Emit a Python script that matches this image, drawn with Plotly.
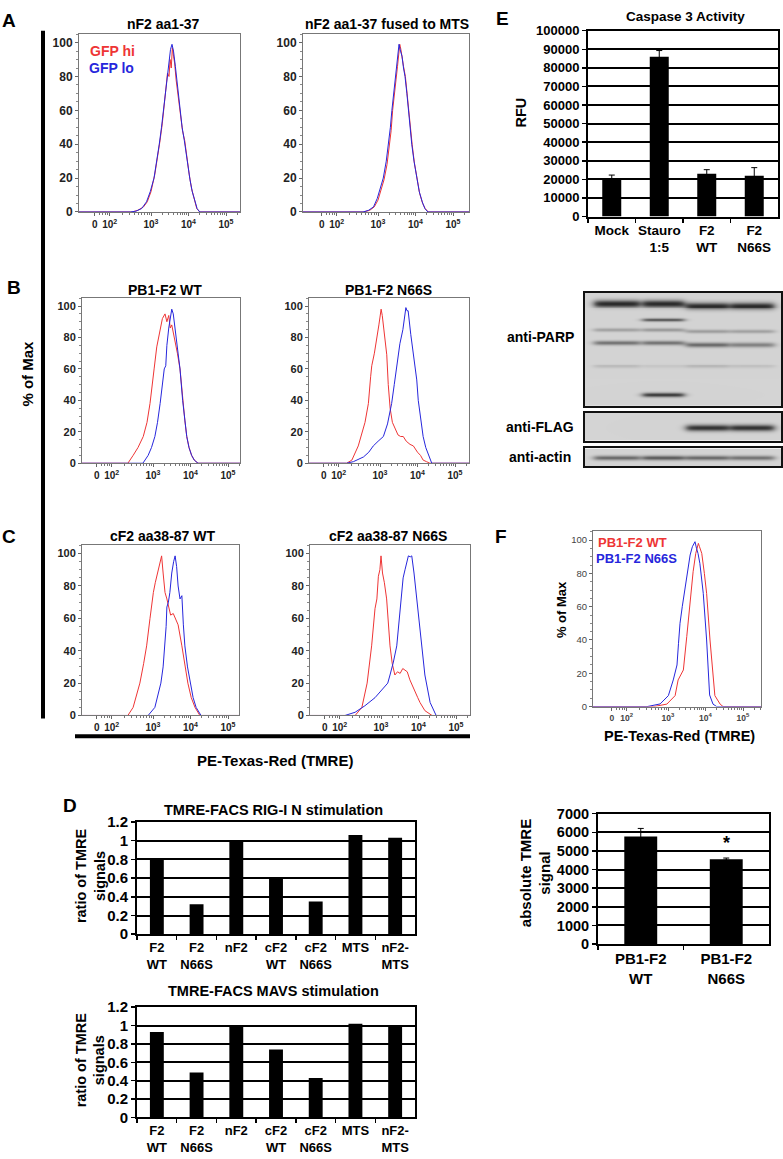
import numpy as np
import plotly.graph_objects as go

W, H = 783, 1159
FONT = "Arial, Liberation Sans, sans-serif"
RED = "#ee3535"
BLUE = "#2626dc"

# ---------------- DATA ----------------
# Flow histograms: x in display decades (10^3 -> 3), y in % of max
A1_RED_X = [1.0, 2.5, 2.65, 2.8, 2.9, 3.0, 3.1, 3.18, 3.24, 3.3, 3.35, 3.4, 3.44, 3.48, 3.51, 3.54, 3.57, 3.6, 3.63, 3.67, 3.72, 3.78, 3.84, 3.9, 3.95, 4.02, 4.08, 4.15, 4.22, 4.3, 5.5]
A1_RED_Y = [0, 0, 1, 3, 6, 12, 22, 32, 42, 52, 62, 72, 82, 80, 90, 85, 97, 92, 88, 78, 68, 58, 48, 42, 33, 22, 14, 7, 2, 0, 0]
A1_BLUE_X = [1.0, 2.45, 2.6, 2.75, 2.88, 2.98, 3.08, 3.16, 3.22, 3.28, 3.33, 3.38, 3.42, 3.47, 3.52, 3.56, 3.6, 3.65, 3.7, 3.77, 3.83, 3.89, 3.93, 3.98, 4.04, 4.1, 4.17, 4.23, 4.3, 5.5]
A1_BLUE_Y = [0, 0, 0.5, 2, 6, 12, 20, 30, 40, 50, 60, 70, 80, 90, 96, 99, 95, 86, 76, 60, 50, 42, 35, 27, 19, 12, 6, 2, 0, 0]

A2_RED_X = [1.0, 2.62, 2.78, 2.9, 3.0, 3.09, 3.16, 3.24, 3.3, 3.35, 3.39, 3.44, 3.48, 3.52, 3.55, 3.58, 3.61, 3.64, 3.68, 3.73, 3.78, 3.82, 3.87, 3.91, 3.97, 4.04, 4.11, 4.19, 4.26, 4.34, 5.5]
A2_RED_Y = [0, 0, 1, 3, 7, 13, 19, 28, 38, 48, 60, 72, 78, 86, 94, 99, 96, 90, 86, 80, 68, 58, 49, 40, 29, 19, 11, 5, 2, 0, 0]
A2_BLUE_X = [1.0, 2.6, 2.75, 2.88, 2.98, 3.07, 3.14, 3.22, 3.28, 3.33, 3.37, 3.42, 3.46, 3.5, 3.54, 3.56, 3.6, 3.64, 3.68, 3.72, 3.77, 3.81, 3.86, 3.9, 3.96, 4.03, 4.1, 4.18, 4.25, 4.33, 5.5]
A2_BLUE_Y = [0, 0, 1, 3, 8, 14, 20, 30, 40, 50, 60, 70, 80, 90, 97, 99, 95, 92, 85, 80, 70, 60, 50, 40, 30, 20, 12, 6, 2, 0, 0]

B1_RED_X = [1.0, 2.33, 2.47, 2.6, 2.74, 2.84, 2.92, 2.97, 3.03, 3.1, 3.19, 3.25, 3.32, 3.37, 3.42, 3.46, 3.5, 3.55, 3.59, 3.65, 3.72, 3.79, 3.85, 3.9, 3.96, 4.03, 4.1, 4.2, 5.5]
B1_RED_Y = [0, 0, 5, 10, 17, 26, 38, 50, 60, 74, 86, 92, 95, 90, 94, 86, 88, 82, 78, 70, 60, 40, 27, 17, 10, 5, 2, 0, 0]
B1_BLUE_X = [1.0, 2.73, 2.87, 2.96, 3.05, 3.12, 3.19, 3.25, 3.3, 3.34, 3.37, 3.42, 3.46, 3.5, 3.54, 3.59, 3.65, 3.72, 3.79, 3.85, 3.9, 3.96, 4.03, 4.1, 4.2, 5.5]
B1_BLUE_Y = [0, 0, 5, 10, 17, 26, 38, 52, 60, 62, 75, 86, 92, 98, 95, 85, 72, 60, 40, 27, 17, 10, 5, 2, 0, 0]

B2_RED_X = [1.0, 2.11, 2.25, 2.42, 2.6, 2.69, 2.75, 2.78, 2.85, 2.91, 2.97, 3.0, 3.03, 3.06, 3.09, 3.14, 3.18, 3.22, 3.27, 3.33, 3.4, 3.48, 3.55, 3.62, 3.7, 3.8, 3.89, 4.0, 4.08, 4.15, 4.24, 4.33, 5.5]
B2_RED_Y = [0, 0, 2, 11, 26, 38, 55, 62, 70, 78, 88, 93, 98, 94, 87, 76, 69, 50, 35, 26, 22, 18, 17, 17, 14, 12, 11, 7, 5, 2, 1, 0, 0]
B2_BLUE_X = [1.0, 2.11, 2.29, 2.56, 2.7, 2.82, 2.95, 3.09, 3.2, 3.31, 3.38, 3.45, 3.53, 3.61, 3.66, 3.69, 3.72, 3.75, 3.82, 3.89, 3.98, 4.02, 4.08, 4.15, 4.22, 4.29, 4.38, 5.5]
B2_BLUE_Y = [0, 0, 1, 4, 7, 11, 14, 17, 25, 38, 50, 61, 76, 85, 95, 99, 97, 97, 82, 69, 53, 40, 28, 17, 10, 5, 0, 0]

C1_RED_X = [1.0, 2.33, 2.47, 2.56, 2.65, 2.75, 2.83, 2.92, 2.97, 3.01, 3.06, 3.1, 3.15, 3.2, 3.23, 3.27, 3.32, 3.37, 3.41, 3.47, 3.54, 3.6, 3.67, 3.77, 3.85, 3.93, 4.02, 4.12, 4.25, 5.5]
C1_RED_Y = [0, 0, 5, 12, 20, 32, 43, 60, 70, 76, 82, 86, 90, 94, 98.6, 88, 76, 72, 68, 62, 63, 60, 56, 43, 30, 20, 11, 5, 0, 0]
C1_BLUE_X = [1.0, 2.87, 3.05, 3.13, 3.21, 3.27, 3.32, 3.35, 3.37, 3.41, 3.45, 3.5, 3.55, 3.59, 3.63, 3.67, 3.72, 3.77, 3.81, 3.85, 3.92, 3.99, 4.07, 4.15, 4.28, 5.5]
C1_BLUE_Y = [0, 0, 5, 12, 20, 30, 43, 55, 67, 70, 76, 88, 95, 98.6, 92, 80, 72, 74, 56, 43, 30, 20, 11, 5, 0, 0]

C2_RED_X = [1.0, 2.31, 2.49, 2.63, 2.75, 2.84, 2.89, 2.93, 2.97, 3.0, 3.04, 3.09, 3.15, 3.19, 3.24, 3.3, 3.37, 3.44, 3.51, 3.58, 3.64, 3.7, 3.77, 3.84, 3.91, 3.98, 4.04, 4.17, 4.36, 5.5]
C2_RED_Y = [0, 0, 5, 20, 43, 66, 72, 86, 90, 98.6, 88, 82, 72, 56, 43, 32, 25, 27, 26, 29, 28, 27, 22, 18, 15, 11, 8, 3, 0, 0]
C2_BLUE_X = [1.0, 2.04, 2.31, 2.57, 2.84, 3.0, 3.11, 3.18, 3.24, 3.33, 3.42, 3.47, 3.51, 3.55, 3.59, 3.64, 3.69, 3.73, 3.78, 3.82, 3.88, 3.95, 4.04, 4.08, 4.17, 4.31, 4.47, 5.5]
C2_BLUE_Y = [0, 0, 2, 6, 11, 15, 18, 20, 25, 33, 43, 55, 64, 75, 85, 90, 96, 98.6, 98, 98.6, 88, 72, 52, 43, 25, 8, 0, 0]

F_RED_X = [1.0, 2.61, 2.97, 3.19, 3.27, 3.34, 3.41, 3.5, 3.59, 3.67, 3.74, 3.79, 3.81, 3.84, 3.9, 3.97, 4.03, 4.12, 4.18, 4.21, 4.25, 4.39, 4.47, 5.5]
F_RED_Y = [0, 0, 1.5, 6.6, 16, 19, 22, 42, 62, 81, 92, 97, 98, 96, 92, 80, 68, 40, 22, 16, 6.6, 1.5, 0, 0]
F_BLUE_X = [1.0, 2.44, 2.79, 3.01, 3.14, 3.24, 3.28, 3.32, 3.38, 3.45, 3.52, 3.59, 3.65, 3.7, 3.72, 3.76, 3.8, 3.85, 3.94, 4.03, 4.07, 4.11, 4.2, 4.3, 5.5]
F_BLUE_Y = [0, 0, 1.6, 6.6, 16, 25, 38, 50, 60, 70, 82, 91, 96, 98, 99, 95, 92, 86, 68, 40, 22, 7, 1.5, 0, 0]

HIST_TICK_POS = [1.5, 1.9, 3, 4, 5]
HIST_TICK_TEXT = ["0", "10<sup>2</sup>", "10<sup>3</sup>", "10<sup>4</sup>", "10<sup>5</sup>"]
HIST_Y_TICKS = [0, 20, 40, 60, 80, 100]

# Caspase 3 activity
E_CATS = ["Mock", "Stauro<br>1:5", "F2<br>WT", "F2<br>N66S"]
E_VALS = [20500, 86000, 23000, 22000]
E_ERR = [1800, 3300, 2200, 4300]

# absolute TMRE
T_CATS = ["PB1-F2<br>WT", "PB1-F2<br>N66S"]
T_VALS = [5780, 4560]
T_ERR = [430, 60]

# D panels
D_CATS = ["F2<br>WT", "F2<br>N66S", "nF2", "cF2<br>WT", "cF2<br>N66S", "MTS", "nF2-<br>MTS"]
D_RIG = [0.80, 0.32, 1.00, 0.59, 0.35, 1.06, 1.03]
D_MAVS = [0.93, 0.49, 1.00, 0.74, 0.43, 1.02, 1.00]

# Western blot bands: (row, sigma, darkness per lane)
LANE_CENTER = [32, 78.5, 122.5, 167.5]
LANE_WIDTH = [46, 42, 43, 44]
PARP_BANDS = [
    (11.0, 4.0, [0.80, 0.80, 0.0, 0.0]),
    (13.5, 4.0, [0.0, 0.0, 0.80, 0.80]),
    (28.0, 1.7, [0.0, 0.60, 0.0, 0.0]),
    (38.0, 1.9, [0.26, 0.30, 0.0, 0.0]),
    (39.5, 1.9, [0.0, 0.0, 0.28, 0.26]),
    (51.0, 2.3, [0.48, 0.48, 0.0, 0.0]),
    (53.0, 2.5, [0.0, 0.0, 0.52, 0.42]),
    (75.0, 2.2, [0.13, 0.07, 0.15, 0.10]),
    (104.0, 2.3, [0.0, 0.72, 0.0, 0.0]),
]
FLAG_BANDS = [(15.0, 3.4, [0.0, 0.0, 0.76, 0.76])]
ACTIN_BANDS = [(10.0, 2.4, [0.52, 0.58, 0.52, 0.48])]

# ---------------- HELPERS ----------------
def dxr(x0, x1):
    return [x0 / W, x1 / W]

def dyr(y0, y1):
    return [1 - y1 / H, 1 - y0 / H]

fig = go.Figure()
layout = dict(width=W, height=H, margin=dict(l=0, r=0, t=0, b=0, pad=0),
              paper_bgcolor="white", plot_bgcolor="white", showlegend=False,
              font=dict(family=FONT, color="black"))
annotations = []
shapes = []

def ann(text, x, y, size, color="black", angle=0, xanchor="center", yanchor="middle", weight="bold"):
    annotations.append(dict(text=text, x=x / W, y=1 - y / H, xref="paper", yref="paper",
                            showarrow=False, textangle=angle, xanchor=xanchor, yanchor=yanchor,
                            font=dict(family=FONT, size=size, color=color, weight=weight)))

MINOR_X = [1.62, 1.7, 1.78, 1.84] + \
    [1.9 + 1.1 * np.log10(k) for k in range(2, 10)] + \
    [3 + np.log10(k) for k in range(2, 10)] + \
    [4 + np.log10(k) for k in range(2, 10)] + [5 + np.log10(k) for k in range(2, 4)]

DEC = 37.5

def hist(n, box, rel10, rx, ry, bx, by, ysize=11, xsize=10, tickcol="#222", yweight="bold"):
    x0, y0, x1, y1 = box
    left = 3 - rel10 / DEC
    right = left + (x1 - x0) / DEC
    layout[f"xaxis{n}"] = dict(domain=dxr(x0, x1), anchor=f"y{n}", range=[left, right],
                               tickmode="array", tickvals=HIST_TICK_POS, ticktext=HIST_TICK_TEXT,
                               ticks="outside", ticklen=3, tickcolor="#666", showline=True, mirror=True,
                               linecolor="#777", linewidth=1, showgrid=False, zeroline=False,
                               tickfont=dict(family=FONT, size=xsize, color=tickcol, weight="bold"),
                               minor=dict(tickvals=MINOR_X, ticks="outside", ticklen=2, tickcolor="#777"))
    layout[f"yaxis{n}"] = dict(domain=dyr(y0, y1), anchor=f"x{n}", range=[0, 105.3],
                               tickmode="array", tickvals=HIST_Y_TICKS, ticks="outside", ticklen=3,
                               tickcolor="#666", showline=True, mirror=True, linecolor="#777",
                               linewidth=1, showgrid=False, zeroline=False,
                               tickfont=dict(family=FONT, size=ysize, color=tickcol, weight=yweight),
                               minor=dict(dtick=5, ticks="outside", ticklen=2, tickcolor="#888"))
    fig.add_trace(go.Scatter(x=rx, y=ry, mode="lines", line=dict(color=RED, width=1),
                             xaxis=f"x{n}", yaxis=f"y{n}", hoverinfo="skip"))
    fig.add_trace(go.Scatter(x=bx, y=by, mode="lines", line=dict(color=BLUE, width=1),
                             xaxis=f"x{n}", yaxis=f"y{n}", hoverinfo="skip"))

# ---------------- HISTOGRAMS ----------------
hist(1, (79, 25, 240, 206), 72, A1_RED_X, A1_RED_Y, A1_BLUE_X, A1_BLUE_Y, ysize=12)
hist(2, (303, 25, 469, 206), 75, A2_RED_X, A2_RED_Y, A2_BLUE_X, A2_BLUE_Y, ysize=12)
hist(3, (82, 293, 240, 461), 71, B1_RED_X, B1_RED_Y, B1_BLUE_X, B1_BLUE_Y)
hist(4, (309, 293, 469, 461), 71, B2_RED_X, B2_RED_Y, B2_BLUE_X, B2_BLUE_Y)
hist(5, (82, 544, 239, 717), 71, C1_RED_X, C1_RED_Y, C1_BLUE_X, C1_BLUE_Y)
hist(6, (310, 544, 470, 717), 71, C2_RED_X, C2_RED_Y, C2_BLUE_X, C2_BLUE_Y)
hist(7, (593, 530, 761, 708), 75, F_RED_X, F_RED_Y, F_BLUE_X, F_BLUE_Y, ysize=9.5, xsize=8.5,
     tickcol="#444", yweight="normal")

ann("nF2 aa1-37", 163, 15, 14)
ann("nF2 aa1-37 fused to MTS", 387, 15, 14)
ann("PB1-F2 WT", 165, 285, 14)
ann("PB1-F2 N66S", 388, 285, 14)
ann("cF2 aa38-87 WT", 162, 535, 14)
ann("cF2 aa38-87 N66S", 388, 535, 14)
ann("GFP hi", 88, 43, 14, color=RED, xanchor="left")
ann("GFP lo", 87, 60, 14, color=BLUE, xanchor="left")
ann("PB1-F2 WT", 596, 541, 13, color=RED, xanchor="left")
ann("PB1-F2 N66S", 594, 558, 13, color=BLUE, xanchor="left")
ann("% of Max", 28, 370, 15, angle=-90)
ann("PE-Texas-Red (TMRE)", 275, 763, 15)
ann("% of Max", 561, 610, 13, angle=-90)
ann("PE-Texas-Red (TMRE)", 679, 738, 14.5)

shapes.append(dict(type="rect", xref="paper", yref="paper", x0=41 / W, x1=45 / W,
                   y0=1 - 720 / H, y1=1 - 22 / H, fillcolor="black", line=dict(width=0)))
shapes.append(dict(type="rect", xref="paper", yref="paper", x0=75 / W, x1=470 / W,
                   y0=1 - 740 / H, y1=1 - 736 / H, fillcolor="black", line=dict(width=0)))

# ---------------- BAR CHARTS ----------------
def bar_chart(n, box, cats, vals, err, yrange, dtick, width, ysize, xsize):
    x0, y0, x1, y1 = box
    layout[f"xaxis{n}"] = dict(domain=dxr(x0, x1), anchor=f"y{n}", type="category",
                               showline=True, linecolor="black", linewidth=2, mirror=True,
                               ticks="outside", tickson="boundaries", ticklen=4, tickwidth=1.5,
                               tickcolor="black", showgrid=False, zeroline=False, tickangle=0,
                               tickfont=dict(family=FONT, size=xsize, color="black", weight="bold"))
    layout[f"yaxis{n}"] = dict(domain=dyr(y0, y1), anchor=f"x{n}", range=yrange, dtick=dtick,
                               tickformat="d" if dtick >= 1 else "",
                               showline=True, linecolor="black", linewidth=2, mirror=True,
                               ticks="outside", ticklen=4, tickwidth=1.5, tickcolor="black",
                               showgrid=True, gridcolor="black", gridwidth=2, zeroline=False,
                               tickfont=dict(family=FONT, size=ysize, color="black", weight="bold"))
    ey = dict(type="data", array=err, color="black", thickness=1, width=3, visible=True) if err else None
    fig.add_trace(go.Bar(x=cats, y=vals, width=width, marker=dict(color="black", line=dict(width=0)),
                         error_y=ey, xaxis=f"x{n}", yaxis=f"y{n}", hoverinfo="skip"))

bar_chart(8, (588, 22, 778, 210.6), E_CATS, E_VALS, E_ERR, [0, 100000], 10000, 0.4, 13, 13.5)
bar_chart(9, (598, 816.7, 769, 949), T_CATS, T_VALS, T_ERR, [0, 7000], 1000, 0.385, 14.5, 15)
bar_chart(10, (137, 825, 415, 939), D_CATS, D_RIG, None, [0, 1.2], 0.2, 0.35, 15, 13)
bar_chart(11, (137, 1013, 415, 1125), D_CATS, D_MAVS, None, [0, 1.2], 0.2, 0.35, 15, 13)

ann("Caspase 3 Activity", 685, 8, 13.5)
ann("RFU", 521, 105, 14.5, angle=-90)
ann("*", 726, 846, 18)
ann("absolute TMRE<br>signal", 535, 877, 15, angle=-90)
ann("TMRE-FACS RIG-I N stimulation", 273, 813, 14.5)
ann("TMRE-FACS MAVS stimulation", 273, 997, 14.5)
ann("ratio of TMRE<br>signals", 90, 880, 14.5, angle=-90)
ann("ratio of TMRE<br>signals", 90, 1067, 14.5, angle=-90)

# ---------------- WESTERN BLOT ----------------
def blot(n, box, bands):
    x0, y0, x1, y1 = box
    wpx, hpx = int(round(x1 - x0)), int(round(y1 - y0))
    xs = np.arange(wpx) + 0.5
    ys = np.arange(hpx) + 0.5
    z = np.full((hpx, wpx), 0.15)
    for row, sig, dark in bands:
        prof_y = np.exp(-((ys - row) / sig) ** 2)
        for li, d in enumerate(dark):
            if d <= 0:
                continue
            c, w = LANE_CENTER[li], LANE_WIDTH[li]
            prof_x = 1 / (1 + np.exp(-(xs - (c - w / 2)) / 2.2)) * 1 / (1 + np.exp((xs - (c + w / 2)) / 2.2))
            z += d * np.outer(prof_y, prof_x)
    z = np.clip(z, 0, 1)
    fig.add_trace(go.Heatmap(z=z, x=xs, y=ys, zmin=0, zmax=1, showscale=False,
                             colorscale=[[0, "rgb(240,240,240)"], [0.5, "rgb(145,145,145)"], [1, "rgb(30,30,30)"]],
                             xaxis=f"x{n}", yaxis=f"y{n}", hoverinfo="skip"))
    layout[f"xaxis{n}"] = dict(domain=dxr(x0, x1), anchor=f"y{n}", range=[0, wpx], showticklabels=False,
                               ticks="", showgrid=False, zeroline=False, showline=True, mirror=True,
                               linecolor="#111", linewidth=2)
    layout[f"yaxis{n}"] = dict(domain=dyr(y0, y1), anchor=f"x{n}", range=[hpx, 0], showticklabels=False,
                               ticks="", showgrid=False, zeroline=False, showline=True, mirror=True,
                               linecolor="#111", linewidth=2)

blot(12, (585, 288, 781, 403), PARP_BANDS)
blot(13, (585, 410, 781, 438), FLAG_BANDS)
blot(14, (585, 446, 781, 464), ACTIN_BANDS)

ann("anti-PARP", 540, 333, 14)
ann("anti-FLAG", 540, 424, 14)
ann("anti-actin", 540, 455, 14)

# panel letters
for letter, x, y in [("A", 9, 12), ("B", 14, 283), ("C", 9, 535), ("D", 70, 808), ("E", 502, 10), ("F", 501, 535)]:
    ann(letter, x, y, 19)

layout["annotations"] = annotations
layout["shapes"] = shapes
fig.update_layout(**layout)
fig.write_html("out.html", config={"displayModeBar": False, "staticPlot": True},
               post_script="document.body.style.margin='0px';document.body.style.overflow='hidden';")
